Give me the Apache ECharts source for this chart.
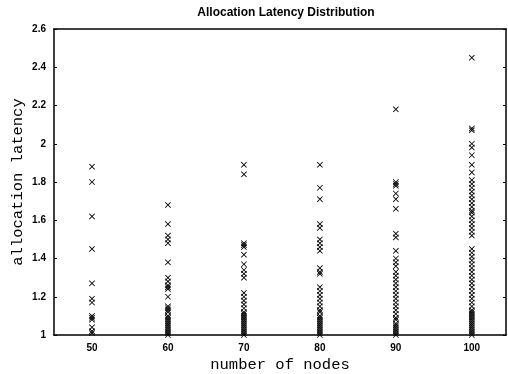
<!DOCTYPE html>
<html>
<head>
<meta charset="utf-8">
<script src="https://cdn.jsdelivr.net/npm/echarts@6/dist/echarts.min.js"></script>
<style>
  html, body { margin: 0; padding: 0; background: #fff; }
  #chart { width: 508px; height: 374px; }
</style>
</head>
<body>
<div id="chart"></div>
<script>
// number of nodes on the x axis
const nodes = [50, 60, 70, 80, 90, 100];

// allocation latency samples per node count
const lat50 = [1.88, 1.80, 1.62, 1.45, 1.27, 1.19, 1.17, 1.10, 1.09, 1.08, 1.04, 1.02, 1.01];
const lat60 = [1.68, 1.58, 1.52, 1.50, 1.48, 1.38, 1.30, 1.28, 1.26, 1.25, 1.24, 1.20, 1.15, 1.14, 1.13,
  1.12, 1.10, 1.09, 1.08, 1.07, 1.06, 1.05, 1.04, 1.03, 1.02, 1.01, 1.00];
const lat70 = [1.89, 1.84, 1.48, 1.47, 1.46, 1.42, 1.37, 1.34, 1.32, 1.30, 1.22, 1.20, 1.18, 1.16, 1.14,
  1.12, 1.11, 1.10, 1.09, 1.08, 1.07, 1.06, 1.05, 1.04, 1.03, 1.02, 1.01, 1.00];
const lat80 = [1.89, 1.77, 1.71, 1.58, 1.56, 1.50, 1.48, 1.46, 1.44, 1.35, 1.33, 1.32, 1.25, 1.23, 1.21,
  1.19, 1.17, 1.15, 1.13, 1.12, 1.10, 1.09, 1.08, 1.07, 1.06, 1.05, 1.04, 1.03, 1.02, 1.01, 1.00];
const lat90 = [2.18, 1.80, 1.79, 1.78, 1.74, 1.71, 1.66, 1.53, 1.51, 1.44, 1.40, 1.38, 1.36, 1.33, 1.31,
  1.29, 1.27, 1.25, 1.23, 1.21, 1.19, 1.17, 1.15, 1.13, 1.11, 1.09, 1.08, 1.06, 1.05, 1.04, 1.03, 1.02,
  1.01, 1.00];
const lat100 = [2.45, 2.08, 2.07, 2.00, 1.98, 1.94, 1.89, 1.85, 1.81, 1.79, 1.77, 1.75, 1.73, 1.71, 1.69,
  1.67, 1.65, 1.64, 1.62, 1.60, 1.58, 1.56, 1.54, 1.52, 1.45, 1.43, 1.41, 1.39, 1.37, 1.35, 1.33, 1.31,
  1.29, 1.27, 1.25, 1.23, 1.21, 1.19, 1.17, 1.15, 1.13, 1.12, 1.11, 1.10, 1.09, 1.08, 1.07, 1.06, 1.05,
  1.04, 1.03, 1.02, 1.01, 1.00];

const samples = [lat50, lat60, lat70, lat80, lat90, lat100];

const points = [];
nodes.forEach((n, i) => {
  samples[i].forEach(v => points.push([n, v]));
});

const crossMark = 'path://M0,1L1,0L5,4L9,0L10,1L6,5L10,9L9,10L5,6L1,10L0,9L4,5Z';
const labelFont = { color: '#000', fontFamily: 'Liberation Sans', fontSize: 10, fontWeight: 'bold' };
const monoName = { color: '#000', fontFamily: 'Liberation Mono', fontSize: 15.5 };

const myChart = echarts.init(document.getElementById('chart'), null, { renderer: 'canvas' });
const option = {
  animation: false,
  backgroundColor: '#fff',
  title: {
    text: 'Allocation Latency Distribution',
    left: 281,
    textAlign: 'center',
    top: 2,
    textStyle: { color: '#000', fontFamily: 'Liberation Sans', fontSize: 12, fontWeight: 'bold' }
  },
  grid: { left: 54, right: 2, top: 29, bottom: 39, outerBoundsMode: 'none', containLabel: false },
  xAxis: [
    {
      type: 'value', min: 45, max: 104.5, interval: 5,
      name: 'number of nodes', nameLocation: 'middle', nameGap: 22, nameMoveOverlap: false,
      nameTextStyle: monoName,
      axisLine: { lineStyle: { color: '#000', width: 1.5 } },
      axisTick: { show: false },
      axisLabel: Object.assign({ margin: 8,
        formatter: v => nodes.indexOf(v) >= 0 ? String(v) : '' }, labelFont),
      splitLine: { show: false }
    },
    {
      type: 'value', min: 45, max: 104.5, interval: 5, position: 'top',
      axisLine: { lineStyle: { color: '#000', width: 1.5 } },
      axisTick: { show: false },
      axisLabel: { show: false },
      splitLine: { show: false }
    }
  ],
  yAxis: [
    {
      type: 'value', min: 1, max: 2.6, interval: 0.2,
      name: 'allocation latency', nameLocation: 'middle', nameGap: 28, nameMoveOverlap: false,
      nameTextStyle: monoName,
      axisLine: { lineStyle: { color: '#000', width: 1.5 } },
      axisTick: { inside: true, length: 3, lineStyle: { color: '#000' } },
      axisLabel: Object.assign({ margin: 8, formatter: v => String(+v.toFixed(1)) }, labelFont),
      splitLine: { show: false }
    },
    {
      type: 'value', min: 1, max: 2.6, interval: 0.2, position: 'right',
      axisLine: { lineStyle: { color: '#000', width: 1.5 } },
      axisTick: { inside: true, length: 3, lineStyle: { color: '#000' } },
      axisLabel: { show: false },
      splitLine: { show: false }
    }
  ],
  series: [
    {
      type: 'scatter',
      data: points,
      symbol: crossMark,
      symbolSize: 6,
      itemStyle: { color: '#000', opacity: 1 }
    }
  ]
};
option && myChart.setOption(option);
</script>
</body>
</html>
